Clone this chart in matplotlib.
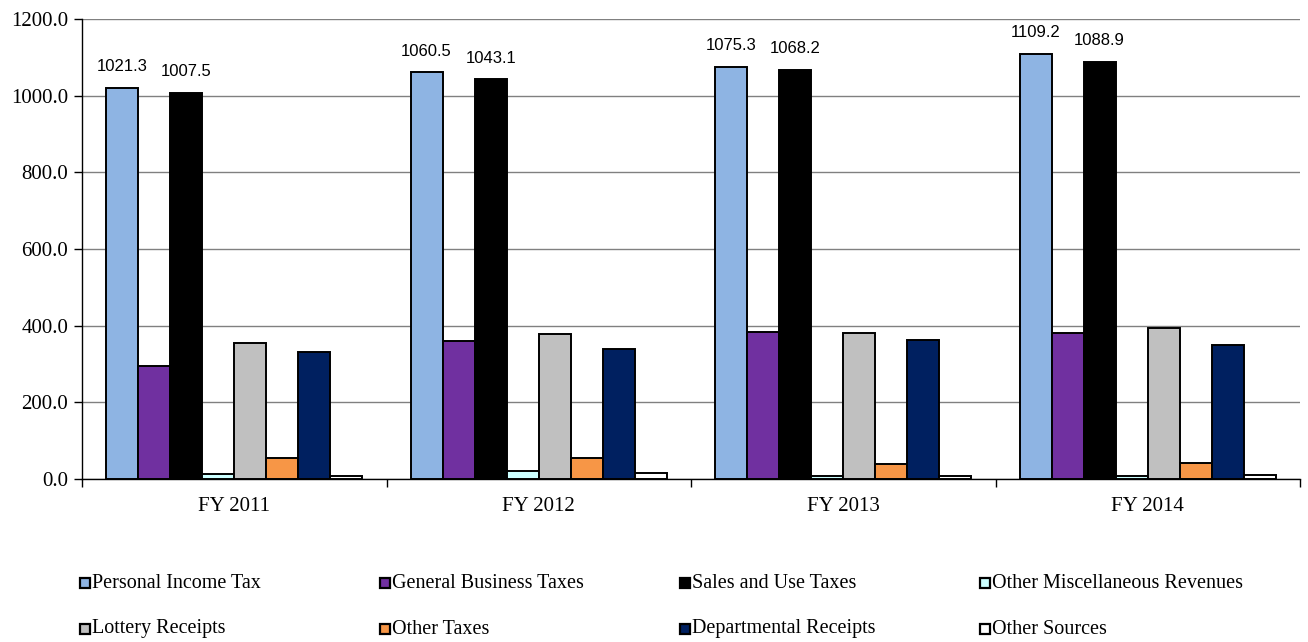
import numpy as np
import matplotlib
matplotlib.use("Agg")
import matplotlib.pyplot as plt
from matplotlib.patches import Rectangle

# data
years = ["FY 2011", "FY 2012", "FY 2013", "FY 2014"]
series = ["Personal Income Tax", "General Business Taxes", "Sales and Use Taxes",
          "Other Miscellaneous Revenues", "Lottery Receipts", "Other Taxes",
          "Departmental Receipts", "Other Sources"]
personal = [1021.3, 1060.5, 1075.3, 1109.2]
business = [295.0, 360.0, 384.0, 382.0]
sales = [1007.5, 1043.1, 1068.2, 1088.9]
misc = [12.0, 20.0, 8.0, 8.0]
lottery = [354.0, 378.0, 380.0, 393.0]
other_taxes = [54.0, 54.0, 40.0, 42.0]
departmental = [332.0, 339.0, 363.0, 350.0]
other_sources = [8.0, 15.0, 8.0, 11.0]

values = [personal, business, sales, misc, lottery, other_taxes, departmental, other_sources]
colors = ["#8EB4E3", "#7030A0", "#000000", "#CCFFFF", "#C0C0C0", "#F79646", "#002060", "#FFFFFF"]
labelled = [0, 2]  # only these series get data labels

serif = ["Liberation Serif", "DejaVu Serif"]
sans = ["Liberation Sans", "DejaVu Sans"]

fig = plt.figure(figsize=(13.08, 6.42), dpi=100)
ax = fig.add_axes([82/1308, 1 - 479/642, (1300-82)/1308, (479-19)/642])

n = len(series)
w = 1 / (n + 1.5)  # Excel gap width 150%
x = np.arange(len(years))
for i, (name, vals, c) in enumerate(zip(series, values, colors)):
    pos = x - 0.5 + 0.75*w + w*i + w/2
    bars = ax.bar(pos, vals, width=w, color=c, edgecolor="black", linewidth=1.4, zorder=3)
    if i in labelled:
        for b, v in zip(bars, vals):
            ax.annotate(f"{v:.1f}", (b.get_x() + b.get_width()/2, v),
                        xytext=(0, 15), textcoords="offset points",
                        ha="center", va="center", fontsize=12, family=sans)

ax.set_xlim(-0.5, len(years) - 0.5)
ax.set_ylim(0, 1200)
ax.set_yticks(np.arange(0, 1201, 200))
ax.set_yticklabels([f"{t:.1f}" for t in np.arange(0, 1201, 200)], family=serif, fontsize=15)
ax.yaxis.grid(True, color="#808080", linewidth=1, zorder=0)
ax.set_axisbelow(True)

ax.set_xticks(x)
ax.set_xticklabels(years, family=serif, fontsize=15)
ax.tick_params(axis="x", which="major", length=0, pad=13)
ax.set_xticks(np.arange(-0.5, len(years)), minor=True)
ax.tick_params(axis="x", which="minor", length=6, direction="out", width=1)
ax.tick_params(axis="y", length=6, width=1, pad=4)

for s in ["top", "right"]:
    ax.spines[s].set_visible(False)
for s in ["left", "bottom"]:
    ax.spines[s].set_color("black")
    ax.spines[s].set_linewidth(1)

# legend laid out like the original: 4 evenly spaced columns, 2 rows
col_x = [80, 380, 680, 980]
row_y = [583, 629]
for i, (name, c) in enumerate(zip(series, colors)):
    px = col_x[i % 4]
    py = row_y[i // 4]
    fig.patches.append(Rectangle((px/1308, 1 - (py + 5)/642), 10/1308, 10/642,
                                 transform=fig.transFigure, facecolor=c,
                                 edgecolor="black", linewidth=1.6))
    fig.text((px + 12)/1308, 1 - py/642, name, family=serif, fontsize=14.5, va="center")

fig.savefig("out.png", dpi=100)
